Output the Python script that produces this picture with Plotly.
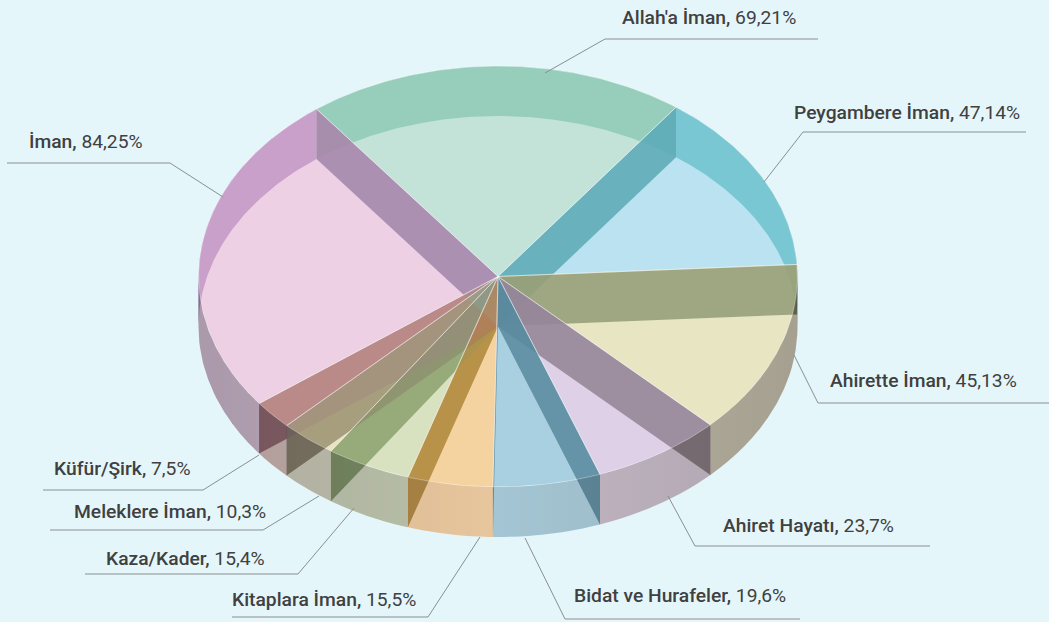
import math
import plotly.graph_objects as go

# ---- data ----
categories = ["Allah'a İman", "Peygambere İman", "Ahirette İman", "Ahiret Hayatı", "Bidat ve Hurafeler",
              "Kitaplara İman", "Kaza/Kader", "Meleklere İman", "Küfür/Şirk", "İman"]
values = [69.21, 47.14, 45.13, 23.7, 19.6, 15.5, 15.4, 10.3, 7.5, 84.25]
value_labels = ["69,21%", "47,14%", "45,13%", "23,7%", "19,6%", "15,5%", "15,4%", "10,3%", "7,5%", "84,25%"]

# colours as seen on the page, per slice
top_seen = ["#c2e3d8", "#b9e3f0", "#e6e6c2", "#ddd0e6", "#a9d1e1", "#f7d4a0", "#d9e2c0", "#e8e4c4", "#f5d2c6", "#eed0e4"]
wall_seen = ["#95b5a5", "#62b2bc", "#9ea882", "#9e8fa0", "#6594a8", "#b99349", "#97aa7a", "#a89e7e", "#b98a88", "#ad90b1"]
ring_seen = ["#95cfbb", "#7ac8d4", "#8a9c7a", "#b0a8b8", "#80a8b8", "#d0b080", "#b0c090", "#b0a880", "#c09090", "#c9a0c9"]
front_seen = ["#a5c5b5", "#90c0c8", "#aea998", "#b8aeb9", "#9cbcc9", "#dcbd96", "#b1b8a2", "#b6b5a5", "#b8a4a0", "#b3a2b3"]

BG = "#e5f6fa"
CX, CY, RX, RY, DEPTH = 498.0, 276.5, 299.5, 210.5, 50.0
START = -37.3
TA, WA, FA = 0.6, 0.88, 0.6
BAND = 8


def rgb(h):
    return tuple(int(h[i:i + 2], 16) for i in (1, 3, 5))


def unmix(seen, under, a):
    return tuple(max(0, min(255, (s - (1 - a) * u) / a)) for s, u in zip(seen, under))


def rgba(c, a):
    return f"rgba({c[0]:.0f},{c[1]:.0f},{c[2]:.0f},{a})"


def px(deg, dz=0.0):
    t = math.radians(deg)
    return CX + RX * math.sin(t), CY - RY * math.cos(t) + dz


def arc(a0, a1, dz=0.0):
    n = max(2, int(abs(a1 - a0) * 2) + 1)
    return [px(a0 + (a1 - a0) * i / (n - 1), dz) for i in range(n)]


def poly(pts, fill, line=None, lw=0):
    xs = [p[0] for p in pts] + [pts[0][0]]
    ys = [p[1] for p in pts] + [pts[0][1]]
    return go.Scatter(x=xs, y=ys, mode="lines", fill="toself", fillcolor=fill,
                      line=dict(width=lw, color=line or "rgba(0,0,0,0)"), hoverinfo="skip", showlegend=False)


def front_cuts(s, e):
    """Angles on the near side of the pie where it crosses whole pixel columns, so bands leave no seams."""
    x_s, x_e = px(s)[0], px(e)[0]
    cuts = [s]
    x = math.floor(x_s / BAND) * BAND
    while x > x_e:
        if x < x_s:
            cuts.append(180 - math.degrees(math.asin((x - CX) / RX)))
        x -= BAND
    cuts.append(e)
    return cuts


total = sum(values)
bounds = [START]
for v in values:
    bounds.append(bounds[-1] + v / total * 360)

bg = rgb(BG)
back, walls, tops, fronts = [], [], [], []
for i, cat in enumerate(categories):
    a0, a1 = bounds[i], bounds[i + 1]
    a0n, a1n = a0 % 360, a1 % 360
    T = unmix(rgb(top_seen[i]), bg, TA)
    raw_wall = tuple(max(0, min(255, (s - TA * t) / (1 - TA))) for s, t in zip(rgb(wall_seen[i]), T))
    raw_ring = tuple(max(0, min(255, (s - TA * t) / (1 - TA))) for s, t in zip(rgb(ring_seen[i]), T))
    W = unmix(raw_wall, bg, WA)

    # outer wall, split at the left and right extremes of the ellipse
    for lo, hi, kind in [(-90, 90, "b"), (90, 270, "f"), (270, 450, "b")]:
        s, e = max(a0, lo), min(a1, hi)
        if e <= s:
            continue
        if kind == "b":
            back.append(poly(arc(s, e) + arc(e, s, DEPTH), rgba(raw_ring, 1)))
        else:
            # the outer wall darkens a little towards the sides of the pie
            cuts = front_cuts(s, e)
            for u0, u1 in zip(cuts[:-1], cuts[1:]):
                shade = 1.05 - 0.10 * abs(math.sin(math.radians((u0 + u1) / 2)))
                seen = tuple(min(255, c * shade) for c in rgb(front_seen[i]))
                fronts.append(poly(arc(u0, u1) + arc(u1, u0, DEPTH), rgba(unmix(seen, bg, FA), FA)))
    # radial walls that face the viewer
    for ang, vis in [(a0n, 0 < a0n < 180), (a1n, 180 < a1n < 360)]:
        if vis:
            pts = [(CX, CY), px(ang), px(ang, DEPTH), (CX, CY + DEPTH)]
            walls.append(poly(pts, rgba(W, WA)))
    tops.append(poly([(CX, CY)] + arc(a0, a1), rgba(T, TA), "rgba(255,255,255,0.45)", 1))

fig = go.Figure(back + walls + tops + fronts)

# leader lines, label order follows categories
leaders = [
    [(545, 73), (605, 39), (818, 39)],
    [(764, 182), (803, 132), (1026, 132)],
    [(794, 355), (818, 403), (1049, 403)],
    [(668, 496), (695, 546), (930, 546)],
    [(525, 538), (565, 619), (800, 619)],
    [(480, 537), (428, 617), (232, 617)],
    [(354, 508), (298, 574), (85, 574)],
    [(319, 496), (263, 530), (50, 530)],
    [(259, 455), (203, 490), (43, 490)],
    [(223, 197), (170, 163), (7, 163)],
]
for l in leaders:
    fig.add_trace(go.Scatter(x=[p[0] for p in l], y=[p[1] for p in l], mode="lines",
                             line=dict(color="#8a8f90", width=1), hoverinfo="skip", showlegend=False))

label_pos = [(620, 17), (792, 112), (828, 380), (721, 525), (572, 595), (230, 599), (104, 558), (72, 511), (52, 468), (27, 141)]
for cat, val, (x, y) in zip(categories, value_labels, label_pos):
    fig.add_annotation(x=x, y=y, xanchor="left", yanchor="middle", showarrow=False,
                       text=f'<span style="font-weight:500">{cat},</span> {val}',
                       font=dict(family="Roboto", size=19.25, color="#404040"))

fig.update_layout(width=1049, height=622, margin=dict(l=0, r=0, t=0, b=0), paper_bgcolor=BG, plot_bgcolor=BG,
                  xaxis=dict(range=[0, 1049], visible=False, fixedrange=True),
                  yaxis=dict(range=[622, 0], visible=False, fixedrange=True), showlegend=False)
fig.write_html("out.html", post_script="document.body.style.margin='0';document.body.style.background='" + BG + "';",
               config={"displayModeBar": False})
